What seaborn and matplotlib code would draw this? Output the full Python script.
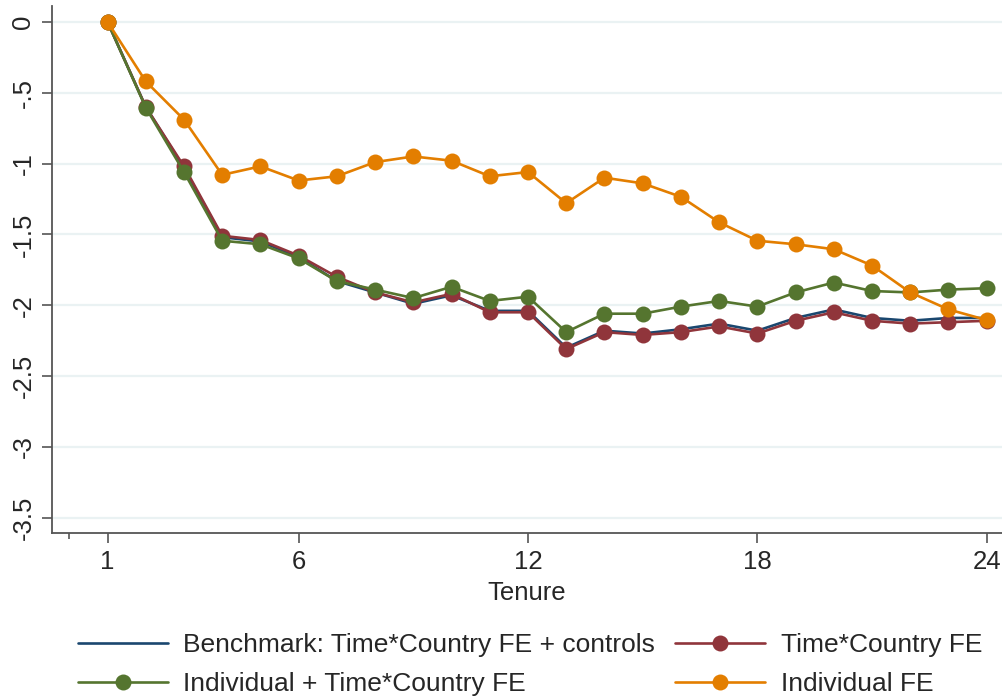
import matplotlib
matplotlib.use('Agg')
import matplotlib.pyplot as plt
from matplotlib.lines import Line2D
import seaborn as sns
import pandas as pd

tenure = list(range(1, 25))

benchmark = [0, -0.60, -1.03, -1.52, -1.55, -1.66, -1.83, -1.91, -1.99, -1.93,
             -2.04, -2.04, -2.30, -2.18, -2.20, -2.17, -2.13, -2.18, -2.09, -2.03,
             -2.09, -2.11, -2.09, -2.09]
time_country = [0, -0.60, -1.02, -1.51, -1.54, -1.65, -1.80, -1.91, -1.98, -1.92,
                -2.05, -2.05, -2.31, -2.19, -2.21, -2.19, -2.15, -2.20, -2.11, -2.05,
                -2.11, -2.13, -2.12, -2.11]
indiv_time_country = [0, -0.605, -1.06, -1.545, -1.57, -1.67, -1.83, -1.89, -1.95, -1.87,
                      -1.97, -1.94, -2.19, -2.06, -2.06, -2.01, -1.97, -2.01, -1.91, -1.84,
                      -1.90, -1.91, -1.89, -1.88]
individual = [0, -0.42, -0.69, -1.08, -1.02, -1.12, -1.09, -0.99, -0.95, -0.98,
              -1.09, -1.06, -1.28, -1.10, -1.14, -1.235, -1.415, -1.545, -1.57, -1.605,
              -1.72, -1.91, -2.03, -2.105]

labels = ['Benchmark: Time*Country FE + controls', 'Time*Country FE',
          'Individual + Time*Country FE', 'Individual FE']
colors = ['#1a476f', '#90353b', '#55752f', '#e37e00']

df = pd.DataFrame({'Tenure': tenure,
                   labels[0]: benchmark,
                   labels[1]: time_country,
                   labels[2]: indiv_time_country,
                   labels[3]: individual})

sns.set_style('white')
plt.rcParams['font.family'] = ['Liberation Sans', 'DejaVu Sans']
fs = 18.5

fig = plt.figure(figsize=(10.02, 6.98), dpi=100)
ax = fig.add_axes([0.052, 0.236, 0.948, 0.755])

for i, lab in enumerate(labels):
    mk = None if i == 0 else 'o'
    sns.lineplot(data=df, x='Tenure', y=lab, color=colors[i], marker=mk,
                 markersize=11.5, markeredgewidth=0, linewidth=1.9, ax=ax,
                 zorder=3 + i)

ax.set_xlim(-0.45, 24.4)
ax.set_ylim(-3.61, 0.11)
ax.set_xticks([1, 6, 12, 18, 24])
ax.set_xticks([0], minor=True)
ax.set_yticks([0, -0.5, -1, -1.5, -2, -2.5, -3, -3.5])
ax.set_yticklabels(['0', '-.5', '-1', '-1.5', '-2', '-2.5', '-3', '-3.5'],
                   rotation=90, va='center')
ax.grid(axis='y', color='#eaf2f3', linewidth=1.6)
ax.set_axisbelow(True)
for s in ['top', 'right']:
    ax.spines[s].set_visible(False)
for s in ['left', 'bottom']:
    ax.spines[s].set_color('#555555')
    ax.spines[s].set_linewidth(1.3)
ax.tick_params(axis='both', which='major', direction='out', length=7, width=1.2,
               color='#555555', labelsize=fs, pad=5, left=True, bottom=True)
ax.tick_params(axis='x', which='minor', direction='out', length=4, width=1.2,
               color='#555555', bottom=True)
ax.set_xlabel('Tenure', fontsize=fs, labelpad=5)
ax.set_ylabel('')

handles = []
for i, lab in enumerate(labels):
    handles.append(Line2D([0], [0], color=colors[i], linewidth=1.9,
                          marker=None if i == 0 else 'o', markersize=11.5,
                          markeredgewidth=0))
order = [0, 2, 1, 3]
fig.legend([handles[k] for k in order], [labels[k] for k in order], ncol=2,
           loc='center', bbox_to_anchor=(0.529, 0.048), frameon=False,
           fontsize=19, handlelength=3.4, columnspacing=0.75, handletextpad=0.6,
           labelspacing=0.55, borderpad=0)

fig.savefig('out.png', dpi=100)
